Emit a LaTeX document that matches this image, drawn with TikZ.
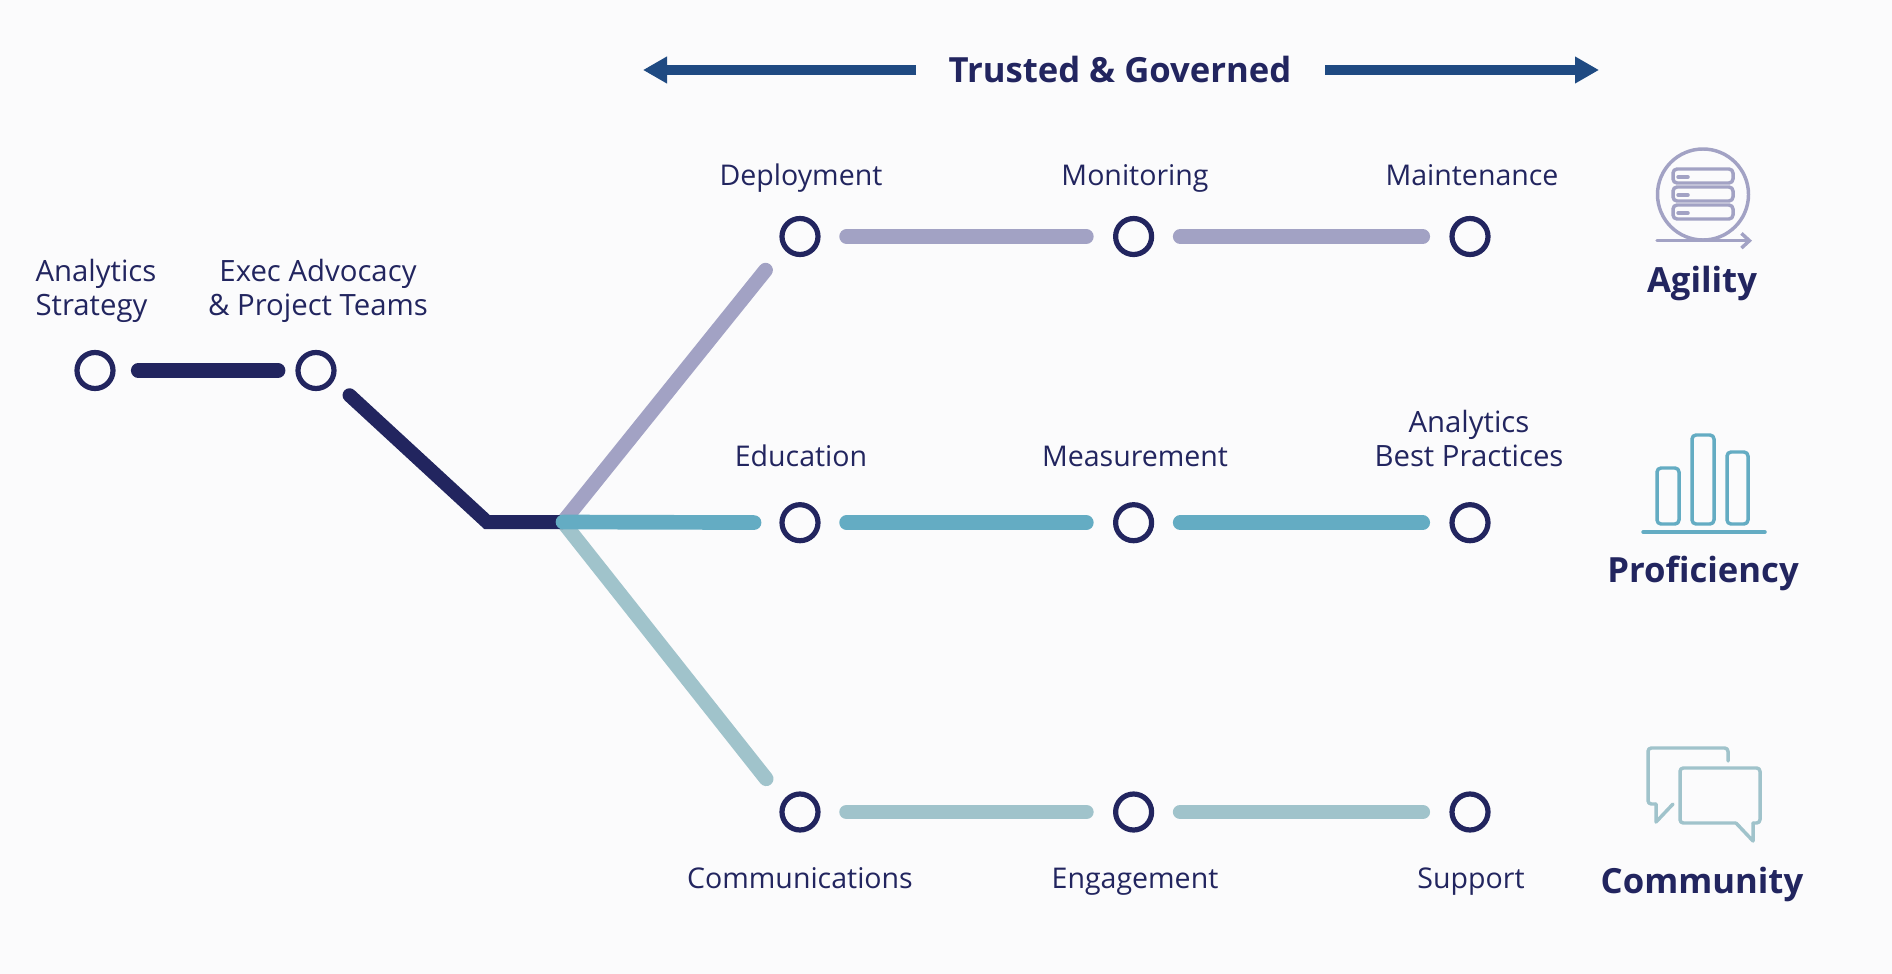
\documentclass[tikz,border=0pt]{standalone}
\usepackage{fontspec}
\usetikzlibrary{arrows.meta}
\setmainfont{Open Sans}
\definecolor{navy}{HTML}{22255F}
\definecolor{arrowblue}{HTML}{1F4A82}
\definecolor{agile}{HTML}{A2A2C4}
\definecolor{profic}{HTML}{64ACC3}
\definecolor{commun}{HTML}{A0C3CB}
\definecolor{paper}{HTML}{FBFBFC}
\tikzset{
  stop/.style={draw=navy, line width=3.9pt, circle, minimum size=27pt, inner sep=0pt, fill=paper},
  lbl/.style={text=navy, font=\fontsize{22}{25.5}\selectfont, align=center},
  one/.style={text=navy, font=\fontsize{21.4}{25.5}\selectfont, anchor=base},
  head/.style={text=navy, font=\fontsize{26}{30}\selectfont\bfseries, align=center, anchor=base},
  track/.style={line width=11pt, line cap=round, line join=round, shorten <=19.5pt, shorten >=20pt},
  icon/.style={line width=2.6pt, line cap=round, line join=round},
}
\begin{document}
\begin{tikzpicture}[x=0.75pt,y=-0.75pt]
\useasboundingbox[fill=paper] (0,0) rectangle (1892,974);
% stops
\node[stop] (strategy) at (95,370.5) {};
\node[stop] (exec) at (316,370.5) {};
\node[stop] (deploy) at (800,236.5) {};
\node[stop] (monitor) at (1133.6,236.5) {};
\node[stop] (maint) at (1470,236.5) {};
\node[stop] (educ) at (800,522.7) {};
\node[stop] (measure) at (1133.6,522.7) {};
\node[stop] (best) at (1470,522.7) {};
\node[stop] (comm) at (800,812) {};
\node[stop] (engage) at (1133.6,812) {};
\node[stop] (support) at (1470,812) {};
\coordinate (bend) at (487,522);
\coordinate (fork) at (563,522);
% tracks
\draw[track, agile, shorten <=0pt, shorten >=21pt] (fork) -- (deploy.215);
\draw[track, commun, shorten <=0pt, shorten >=20.5pt] (fork) -- (comm.145);
\draw[navy, line width=10.5pt, line cap=round, line join=miter, shorten <=16pt] (exec.-30) -- (bend) -- (fork);
\draw[track, navy, shorten <=17pt, shorten >=13pt] (strategy) -- (exec);
\draw[track, profic, shorten <=0pt, shorten >=19pt] (fork) -- (educ);
\draw[track, agile] (deploy) -- (monitor);
\draw[track, agile] (monitor) -- (maint);
\draw[track, profic] (educ) -- (measure);
\draw[track, profic] (measure) -- (best);
\draw[track, commun] (comm) -- (engage);
\draw[track, commun] (engage) -- (support);
% labels
\node[lbl, align=left] (t1) at (96,291) {Analytics\\Strategy};
\node[lbl] (t2) at (318,291) {Exec Advocacy\\\& Project Teams};
\node[one] (t3) at (801,185.5) {Deployment};
\node[one] (t4) at (1135,185.5) {Monitoring};
\node[one] (t5) at (1472,185.5) {Maintenance};
\node[one] (t6) at (801,466) {Education};
\node[one] (t7) at (1135,466) {Measurement};
\node[lbl] (t8) at (1469,438) {Analytics\\Best Practices};
\node[one] (t9) at (800,888) {Communications};
\node[one] (t10) at (1135,888) {Engagement};
\node[one] (t11) at (1471,888) {Support};
\node[head] (agility) at (1702,292) {Agility};
\node[head] (proficiency) at (1703,582) {Proficiency};
\node[head] (community) at (1702,893) {Community};
% title
\node[head] (title) at (1120,83) {Trusted \& Governed};
\coordinate (tipl) at (643,70);
\coordinate (tipr) at (1599,70);
\draw[arrowblue, line width=7.5pt, -{Triangle[length=18pt,width=19pt]}] (916,70) -- (tipl);
\draw[arrowblue, line width=7.5pt, -{Triangle[length=18pt,width=19pt]}] (1325,70) -- (tipr);
% agility icon
\draw[icon, agile] (1703,194.5) circle (45.5);
\draw[icon, agile, -{Straight Barb[length=6pt,width=11pt]}] (1657,240.7) -- (1752,240.7);
\foreach \yy in {176,194,212} {
  \draw[icon, agile, rounded corners=3pt] (1673,\yy-7) rectangle (1733,\yy+7);
  \draw[icon, agile] (1678,\yy+1) -- (1688,\yy+1);
}
% proficiency icon
\draw[icon, profic, rounded corners=3pt] (1657,468) rectangle (1679,524);
\draw[icon, profic, rounded corners=3pt] (1692,435) rectangle (1714,524);
\draw[icon, profic, rounded corners=3pt] (1727,452) rectangle (1748,524);
\draw[icon, profic] (1643,532) -- (1765,532);
% community icon
\draw[icon, commun, rounded corners=2.5pt] (1728,761) -- (1728,748) -- (1648,748) -- (1648,804) -- (1656,804);
\draw[icon, commun] (1656,804) -- (1656,822) -- (1673,804);
\draw[icon, commun, rounded corners=2.5pt] (1736,823) -- (1680,823) -- (1680,768) -- (1760,768) -- (1760,823) -- (1753,823);
\draw[icon, commun] (1736,823) -- (1753,841) -- (1753,823);
\end{tikzpicture}
\end{document}
